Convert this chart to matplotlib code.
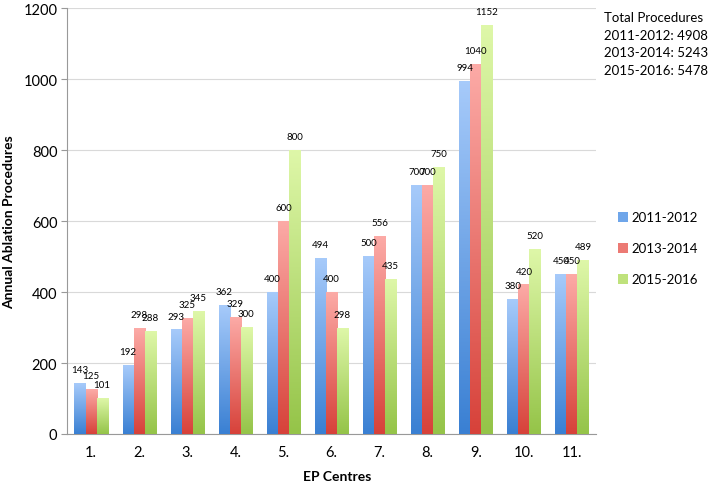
import matplotlib
matplotlib.use("Agg")
import matplotlib.pyplot as plt
from matplotlib.colors import LinearSegmentedColormap
from matplotlib.patches import Patch
import numpy as np

plt.rcParams['font.family'] = ['Lato', 'DejaVu Sans']

centres = ['1.', '2.', '3.', '4.', '5.', '6.', '7.', '8.', '9.', '10.', '11.']
periods = ['2011-2012', '2013-2014', '2015-2016']
vals_2011 = [143, 192, 293, 362, 400, 494, 500, 700, 994, 380, 450]
vals_2013 = [125, 298, 325, 329, 600, 400, 556, 700, 1040, 420, 450]
vals_2015 = [101, 288, 345, 300, 800, 298, 435, 750, 1152, 520, 489]
series = [vals_2011, vals_2013, vals_2015]

# (top, bottom) colours of the gradient fill
grads = [('#a6cafa', '#3a80d3'), ('#fcaaa6', '#d7423a'), ('#def7a8', '#95c449')]
legend_cols = ['#6fa6ea', '#ec7a74', '#bfe27c']

fig = plt.figure(figsize=(7.09, 4.85), dpi=100)
ax = fig.add_axes([0.0945, 0.1031, 0.7461, 0.8783])

x = np.arange(len(centres))
w = 0.23
grad = np.linspace(0, 1, 100).reshape(-1, 1)
for i, vals in enumerate(series):
    cmap = LinearSegmentedColormap.from_list('g%d' % i, [grads[i][1], grads[i][0]])
    for xi, v in zip(x, vals):
        x0 = xi + (i - 1) * w - w / 2
        ax.imshow(grad, extent=(x0, x0 + w, 0, v), origin='lower', aspect='auto',
                  cmap=cmap, zorder=3, interpolation='bilinear')
        ax.annotate(str(v), (x0 + w / 2, v), xytext=(0, 10), textcoords='offset points',
                    ha='center', va='center', fontsize=7, zorder=4)

ax.set_xlim(-0.5, len(centres) - 0.5)
ax.set_ylim(0, 1200)
ax.set_xticks(x)
ax.set_xticklabels(centres, fontsize=10.5)
ax.set_yticks(range(0, 1201, 200))
ax.tick_params(axis='y', labelsize=10.5, length=4, color='#999999', pad=3)
ax.tick_params(axis='x', length=0, pad=8)
ax.yaxis.grid(True, color='#d9d9d9', lw=0.8, zorder=0)
ax.set_axisbelow(True)
for s in ['top', 'right']:
    ax.spines[s].set_visible(False)
ax.spines['left'].set_color('#999999')
ax.spines['bottom'].set_color('#999999')

ax.set_xlabel('EP Centres', fontsize=10, fontweight='bold', labelpad=7)
ax.xaxis.set_label_coords(0.51, -0.085)
ax.set_ylabel('Annual Ablation Procedures', fontsize=10, fontweight='bold', labelpad=6)

handles = [Patch(facecolor=c, edgecolor='none') for c in legend_cols]
fig.legend(handles, periods, loc='center left', bbox_to_anchor=(0.862, 0.486),
           frameon=False, fontsize=9.5, handlelength=0.8, handleheight=0.8,
           handletextpad=0.25, labelspacing=1.45, borderpad=0)

totals = ['Total Procedures'] + ['%s: %d' % (p, sum(s)) for p, s in zip(periods, series)]
fig.text(0.852, 0.975, '\n'.join(totals), fontsize=9.5, va='top', ha='left', linespacing=1.55)

fig.savefig('out.png', dpi=100)
